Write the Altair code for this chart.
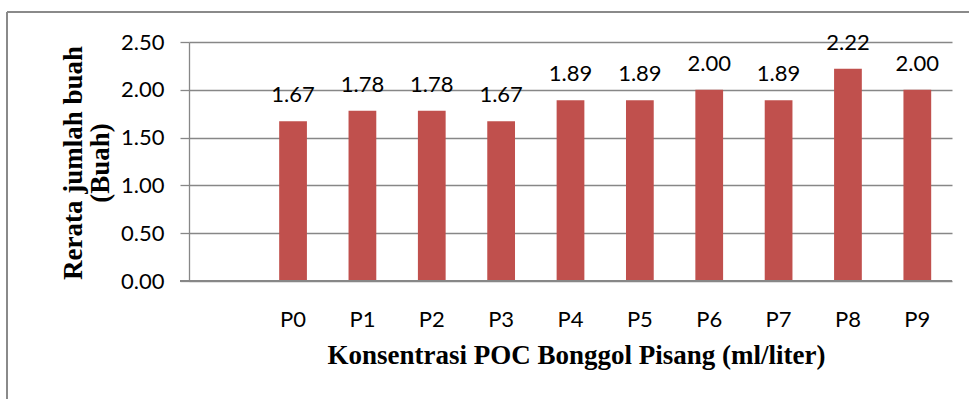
import altair as alt
import pandas as pd

# Treatments and mean fruit count per plant
treatments = ["P0", "P1", "P2", "P3", "P4", "P5", "P6", "P7", "P8", "P9"]
mean_fruit = [1.67, 1.78, 1.78, 1.67, 1.89, 1.89, 2.00, 1.89, 2.22, 2.00]
# the category axis keeps an empty slot ahead of P0
x_domain = [" "] + treatments
y_ticks = [0.0, 0.5, 1.0, 1.5, 2.0, 2.5]

df = pd.DataFrame({"perlakuan": treatments, "buah": mean_fruit})

W, H = 763, 239
GRID = "#878787"
LABEL_FONT = "Lato"
TITLE_FONT = "Liberation Serif"

x_enc = alt.X(
    "perlakuan:N",
    scale=alt.Scale(domain=x_domain, paddingInner=0.6, paddingOuter=0.3),
    sort=x_domain,
    axis=alt.Axis(
        title="Konsentrasi POC Bonggol Pisang (ml/liter)",
        labelAngle=0,
        ticks=False,
        domain=False,
        labelPadding=28,
        labelFont=LABEL_FONT,
        labelFontSize=22,
        labelColor="#000000",
        titleFont=TITLE_FONT,
        titleFontSize=27,
        titleFontWeight="bold",
        titleColor="#000000",
        titleX=387,
        titleY=74,
        titleBaseline="middle",
        titleAnchor="middle",
    ),
)

y_enc = alt.Y(
    "buah:Q",
    scale=alt.Scale(domain=[0, 2.5], nice=False),
    axis=alt.Axis(
        title=["Rerata jumlah buah", "(Buah)"],
        values=y_ticks,
        format=".2f",
        grid=True,
        gridColor=GRID,
        gridWidth=1.3,
        tickColor=GRID,
        tickWidth=1.3,
        tickSize=9,
        domainColor=GRID,
        domainWidth=1.3,
        labelPadding=16,
        labelFont=LABEL_FONT,
        labelFontSize=22,
        labelColor="#000000",
        titleFont=TITLE_FONT,
        titleFontSize=27,
        titleFontWeight="bold",
        titleColor="#000000",
        titleAngle=-90,
        titleX=-116,
        titleY=H / 2 + 1,
        titleAlign="center",
        titleBaseline="middle",
        titleLineHeight=27,
    ),
)

bars = alt.Chart(df).mark_bar(color="#C0504D").encode(x=x_enc, y=y_enc)

labels = alt.Chart(df).mark_text(
    baseline="bottom", dy=-14, font=LABEL_FONT, fontSize=22, color="#000000"
).encode(
    x=alt.X("perlakuan:N", sort=x_domain),
    y=alt.Y("buah:Q"),
    text=alt.Text("buah:Q", format=".2f"),
)

# bottom axis line, spanning from the y tick stubs to the right edge
x_line = alt.Chart(df).mark_rule(color=GRID, strokeWidth=1.3).encode(
    x=alt.value(-9), x2=alt.value(W), y=alt.value(H)
)

# outer chart frame (top and left edges)
frame_top = alt.Chart(df).mark_rule(color="#8a8a8a", strokeWidth=1.5).encode(
    x=alt.value(-182), x2=alt.value(W + 17), y=alt.value(-30)
)
frame_left = alt.Chart(df).mark_rule(color="#8a8a8a", strokeWidth=1.5).encode(
    x=alt.value(-182), y=alt.value(-30), y2=alt.value(H + 118)
)

chart = (
    alt.layer(bars, labels, x_line, frame_top, frame_left)
    .properties(
        width=W,
        height=H,
        autosize=alt.AutoSizeParams(type="none"),
        padding={"left": 189, "top": 42, "right": 17, "bottom": 118},
        background="white",
    )
    .configure_view(stroke=None)
)

chart.save("out.html", embed_options={"renderer": "svg", "actions": False})
